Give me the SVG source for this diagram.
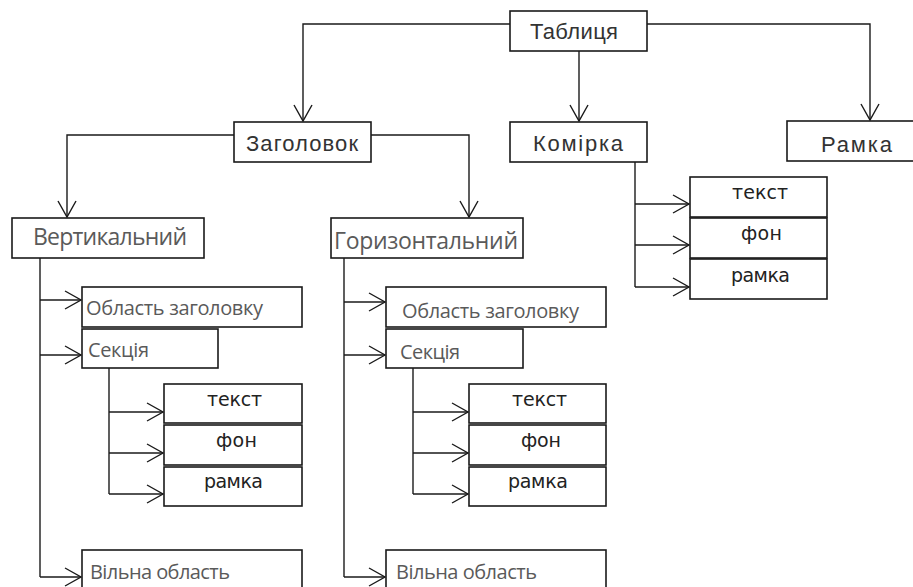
<svg xmlns="http://www.w3.org/2000/svg" width="913" height="587" viewBox="0 0 913 587">
<style>
.b{fill:#fff;stroke:#1a1a1a;stroke-width:1.6}
.c{fill:none;stroke:#1a1a1a;stroke-width:1.4}
.g{font-family:"Liberation Sans",Arial,sans-serif;font-size:22px;fill:#333}
.s{font-family:"Open Sans","Noto Sans",sans-serif;font-size:20px;fill:#5a5a5a}
.s.l{font-size:23px}
.v{font-family:"DejaVu Sans",Verdana,sans-serif;font-size:19px;fill:#222}
</style>
<defs>
<marker id="a" markerUnits="userSpaceOnUse" markerWidth="20" markerHeight="22" refX="17" refY="10" orient="auto" overflow="visible">
<path d="M1,1 L17,10 L1,19" fill="none" stroke="#1a1a1a" stroke-width="1.4"/>
</marker>
</defs>
<rect width="913" height="587" fill="#fff"/>
<g id="connectors" class="c">
<path d="M510,24 H303 V121" marker-end="url(#a)"/>
<path d="M647,24 H870 V120" marker-end="url(#a)"/>
<path d="M579,51 V121" marker-end="url(#a)"/>
<path d="M234,135 H67 V217" marker-end="url(#a)"/>
<path d="M371,135 H469 V217" marker-end="url(#a)"/>
<path d="M635,162 V287"/>
<path d="M635,204 H689" marker-end="url(#a)"/>
<path d="M635,245 H689" marker-end="url(#a)"/>
<path d="M635,287 H689" marker-end="url(#a)"/>
<path d="M40,258 V577"/>
<path d="M40,300 H81" marker-end="url(#a)"/>
<path d="M40,355 H81" marker-end="url(#a)"/>
<path d="M40,577 H81" marker-end="url(#a)"/>
<path d="M109,368 V494"/>
<path d="M109,412 H163" marker-end="url(#a)"/>
<path d="M109,453 H163" marker-end="url(#a)"/>
<path d="M109,494 H163" marker-end="url(#a)"/>
<path d="M344,258 V577"/>
<path d="M344,302 H385" marker-end="url(#a)"/>
<path d="M344,355 H385" marker-end="url(#a)"/>
<path d="M344,577 H385" marker-end="url(#a)"/>
<path d="M413,368 V494"/>
<path d="M413,412 H468" marker-end="url(#a)"/>
<path d="M413,453 H468" marker-end="url(#a)"/>
<path d="M413,494 H468" marker-end="url(#a)"/>
</g>
<g id="tablytsia"><rect class="b" x="510" y="11" width="137" height="40"/><text class="g" x="530" y="39" textLength="88">Таблиця</text></g>
<g id="zaholovok"><rect class="b" x="234" y="122" width="137" height="40"/><text class="g" x="246" y="151" textLength="112">Заголовок</text></g>
<g id="komirka"><rect class="b" x="510" y="122" width="137" height="40"/><text class="g" x="533" y="151" textLength="90">Комірка</text></g>
<g id="ramka"><rect class="b" x="787" y="121" width="140" height="40"/><text class="g" x="821" y="152" textLength="71">Рамка</text></g>
<g id="k-tekst"><rect class="b" x="690" y="177" width="137" height="40"/><text class="v" x="732" y="199" textLength="56">текст</text></g>
<g id="k-fon"><rect class="b" x="690" y="218" width="137" height="40"/><text class="v" x="741" y="240" textLength="41">фон</text></g>
<g id="k-ramka"><rect class="b" x="690" y="259" width="137" height="40"/><text class="v" x="731" y="282" textLength="59">рамка</text></g>
<g id="vertykalnyi"><rect class="b" x="12" y="218" width="192" height="40"/><text class="s l" x="33" y="245" textLength="154">Вертикальний</text></g>
<g id="horyzontalnyi"><rect class="b" x="331" y="218" width="192" height="40"/><text class="s l" x="334" y="249" textLength="184">Горизонтальний</text></g>
<g id="v-oblast"><rect class="b" x="82" y="287" width="220" height="40"/><text class="s" x="86" y="315" textLength="177">Область заголовку</text></g>
<g id="v-sektsiia"><rect class="b" x="82" y="329" width="136" height="39"/><text class="s" x="88" y="357" textLength="61">Секція</text></g>
<g id="v-tekst"><rect class="b" x="164" y="384" width="138" height="39"/><text class="v" x="207" y="406" textLength="55">текст</text></g>
<g id="v-fon"><rect class="b" x="164" y="425" width="138" height="40"/><text class="v" x="216" y="447" textLength="41">фон</text></g>
<g id="v-ramka"><rect class="b" x="164" y="467" width="138" height="39"/><text class="v" x="204" y="488" textLength="59">рамка</text></g>
<g id="v-vilna"><rect class="b" x="82" y="550" width="220" height="50"/><text class="s" x="90" y="579" textLength="140">Вільна область</text></g>
<g id="h-oblast"><rect class="b" x="386" y="287" width="220" height="40"/><text class="s" x="402" y="318" textLength="177">Область заголовку</text></g>
<g id="h-sektsiia"><rect class="b" x="386" y="329" width="137" height="39"/><text class="s" x="400" y="359" textLength="60">Секція</text></g>
<g id="h-tekst"><rect class="b" x="469" y="384" width="137" height="39"/><text class="v" x="512" y="406" textLength="55">текст</text></g>
<g id="h-fon"><rect class="b" x="469" y="425" width="137" height="40"/><text class="v" x="521" y="447" textLength="40">фон</text></g>
<g id="h-ramka"><rect class="b" x="469" y="467" width="137" height="39"/><text class="v" x="508" y="488" textLength="60">рамка</text></g>
<g id="h-vilna"><rect class="b" x="386" y="550" width="220" height="50"/><text class="s" x="396" y="579" textLength="141">Вільна область</text></g>
</svg>
